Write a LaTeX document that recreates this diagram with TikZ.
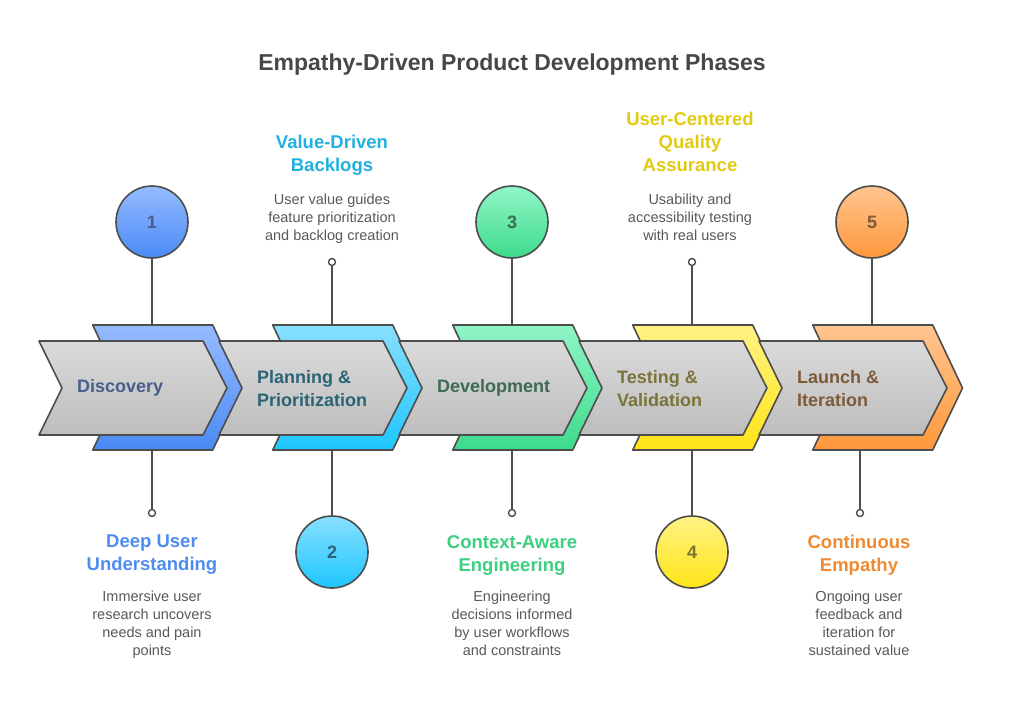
\documentclass[tikz,border=0pt]{standalone}
\usepackage{fontspec}
\setmainfont{Liberation Sans}
\definecolor{edgec}{HTML}{4D4D4D}
\definecolor{descc}{HTML}{595959}
\definecolor{titlec}{HTML}{474747}
\definecolor{greyA}{HTML}{DADADA}
\definecolor{greyB}{HTML}{BDBDBD}
\definecolor{blueA}{HTML}{95BBFF}
\definecolor{blueB}{HTML}{4A8AF5}
\definecolor{cyanA}{HTML}{88E0FF}
\definecolor{cyanB}{HTML}{1EC6FF}
\definecolor{greenA}{HTML}{90F5C6}
\definecolor{greenB}{HTML}{3DDB8C}
\definecolor{yelA}{HTML}{FFF284}
\definecolor{yelB}{HTML}{FFE417}
\definecolor{oraA}{HTML}{FFC590}
\definecolor{oraB}{HTML}{FF983A}
\definecolor{blueT}{HTML}{485E8C}
\definecolor{cyanT}{HTML}{2B6475}
\definecolor{greenT}{HTML}{3C6B54}
\definecolor{yelT}{HTML}{7A7437}
\definecolor{oraT}{HTML}{7D5A3A}
\definecolor{blueS}{HTML}{4F8CF0}
\definecolor{cyanS}{HTML}{22B0E0}
\definecolor{greenS}{HTML}{3CCF80}
\definecolor{yelS}{HTML}{E3CA12}
\definecolor{oraS}{HTML}{EE8A30}
\begin{document}
\begin{tikzpicture}[x=1pt,y=-1pt,line join=round]
\tikzset{
  outl/.style={draw=edgec,line width=1.6pt},
  bignum/.style={circle,minimum size=72pt,inner sep=0pt,draw=edgec,line width=1.6pt,font=\fontsize{18}{20}\selectfont\bfseries},
  dot/.style={circle,minimum size=7pt,inner sep=0pt,draw=edgec,line width=1.4pt,fill=white},
  conn/.style={draw=edgec,line width=1.6pt},
  phase/.style={anchor=west,align=left,font=\fontsize{18}{23}\selectfont\bfseries,inner sep=0pt},
  subt/.style={anchor=north,align=center,font=\fontsize{18.5}{23}\selectfont\bfseries,inner sep=0pt},
  desc/.style={anchor=north,align=center,font=\fontsize{14.5}{18}\selectfont,text=descc,inner sep=0pt},
}
\useasboundingbox (0,0) rectangle (1024,705);
\fill[white] (0,0) rectangle (1024,705);

% title
\node[font=\fontsize{23}{27}\selectfont\bfseries,text=titlec,inner sep=0pt] (title) at (512,65) {Empathy-Driven Product Development Phases};

% circles and dots
\node[bignum,top color=blueA,bottom color=blueB,text=blueT] (n1) at (152,222) {1};
\node[bignum,top color=cyanA,bottom color=cyanB,text=cyanT] (n2) at (332,552) {2};
\node[bignum,top color=greenA,bottom color=greenB,text=greenT] (n3) at (512,222) {3};
\node[bignum,top color=yelA,bottom color=yelB,text=yelT] (n4) at (692,552) {4};
\node[bignum,top color=oraA,bottom color=oraB,text=oraT] (n5) at (872,222) {5};

\node[dot] (d1) at (152,513) {};
\node[dot] (d2) at (332,262) {};
\node[dot] (d3) at (512,513) {};
\node[dot] (d4) at (692,262) {};
\node[dot] (d5) at (860,513) {};

% attachment points on the chevrons
\coordinate (t1) at (152,326);
\coordinate (t2) at (332,326);
\coordinate (t3) at (512,326);
\coordinate (t4) at (692,326);
\coordinate (t5) at (872,326);
\coordinate (b1) at (152,449);
\coordinate (b2) at (332,449);
\coordinate (b3) at (512,449);
\coordinate (b4) at (692,449);
\coordinate (b5) at (860,449);

% connectors
\draw[conn] (n1.south) -- (t1);
\draw[conn] (d2.south) -- (t2);
\draw[conn] (n3.south) -- (t3);
\draw[conn] (d4.south) -- (t4);
\draw[conn] (n5.south) -- (t5);
\draw[conn] (b1) -- (d1.north);
\draw[conn] (b2) -- (n2.north);
\draw[conn] (b3) -- (d3.north);
\draw[conn] (b4) -- (n4.north);
\draw[conn] (b5) -- (d5.north);

% coloured chevrons
\foreach \k/\ca/\cb in {0/blueA/blueB,1/cyanA/cyanB,2/greenA/greenB,3/yelA/yelB,4/oraA/oraB}{
  \path[outl,top color=\ca,bottom color=\cb]
    (92.7+\k*180,325) -- (212.7+\k*180,325) -- (242.5+\k*180,388) -- (212.7+\k*180,450)
    -- (92.7+\k*180,450) -- (122.5+\k*180,388) -- cycle;
}
% grey chevrons
\foreach \k in {0,1,2,3,4}{
  \path[outl,top color=greyA,bottom color=greyB]
    (39+\k*180,341) -- (203+\k*180,341) -- (227+\k*180,388) -- (203+\k*180,435)
    -- (39+\k*180,435) -- (62+\k*180,388) -- cycle;
}

% phase names
\node[phase,text=blueT] (p1) at (77,388) {Discovery};
\node[phase,text=cyanT] (p2) at (257,388.5) {Planning \&\\Prioritization};
\node[phase,text=greenT] (p3) at (437,388) {Development};
\node[phase,text=yelT] (p4) at (617,388.5) {Testing \&\\Validation};
\node[phase,text=oraT] (p5) at (797,388.5) {Launch \&\\Iteration};

% labels
\node[subt,text=blueS] (s1) at (152,535) {Deep User\\Understanding};
\node[desc] (e1) at (152,591) {Immersive user\\research uncovers\\needs and pain\\points};
\node[subt,text=cyanS] (s2) at (332,135) {Value-Driven\\Backlogs};
\node[desc] (e2) at (332,194) {User value guides\\feature prioritization\\and backlog creation};
\node[subt,text=greenS] (s3) at (512,535) {Context-Aware\\Engineering};
\node[desc] (e3) at (512,591) {Engineering\\decisions informed\\by user workflows\\and constraints};
\node[subt,text=yelS] (s4) at (690,112) {User-Centered\\Quality\\Assurance};
\node[desc] (e4) at (690,194) {Usability and\\accessibility testing\\with real users};
\node[subt,text=oraS] (s5) at (859,535) {Continuous\\Empathy};
\node[desc] (e5) at (859,591) {Ongoing user\\feedback and\\iteration for\\sustained value};
\end{tikzpicture}
\end{document}
